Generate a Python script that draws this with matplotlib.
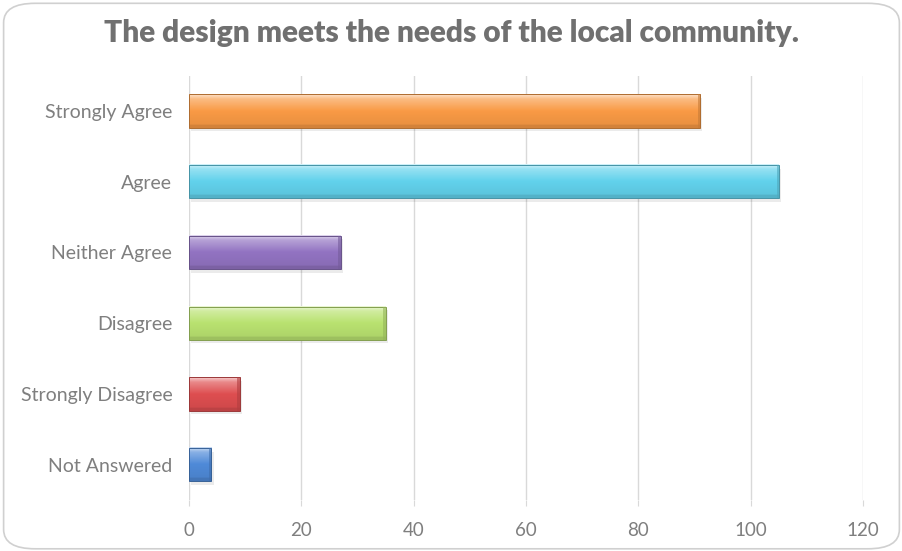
import numpy as np
import matplotlib.pyplot as plt
from matplotlib.patches import FancyBboxPatch, Rectangle
from matplotlib.colors import to_rgb

plt.rcParams['font.family'] = ['Lato', 'DejaVu Sans']

# survey data
categories = ['Strongly Agree', 'Agree', 'Neither Agree', 'Disagree',
              'Strongly Disagree', 'Not Answered']
counts = [91, 105, 27, 35, 9, 4]
bar_colors = ['#F99A45', '#62D2EC', '#9273C2', '#B9E270', '#DE4E50', '#4F8AD8']
xticks = [0, 20, 40, 60, 80, 100, 120]


def mix(c, other, t):
    c = np.array(to_rgb(c))
    return c * (1 - t) + np.array(other) * t


def bevel_gradient(color, n=60):
    # light top edge, base body, slightly darker bottom edge
    pos = np.linspace(0, 1, n)
    out = np.zeros((n, 1, 3))
    for i, p in enumerate(pos):
        if p < 0.12:
            col = mix(color, (1, 1, 1), 0.7 - p * 2.5)
        elif p < 0.5:
            col = mix(color, (1, 1, 1), 0.35 * (0.5 - p) / 0.38)
        elif p < 0.9:
            col = mix(color, (0, 0, 0), 0.06 * (p - 0.5) / 0.4)
        else:
            col = mix(color, (0, 0, 0), 0.15)
        out[i, 0] = col
    return out


fig = plt.figure(figsize=(9.03, 5.51), dpi=100)
fig.patches.append(FancyBboxPatch((0.004, 0.004), 0.992, 0.99,
                                  boxstyle='round,pad=0,rounding_size=0.035',
                                  transform=fig.transFigure, facecolor='white',
                                  edgecolor='#d0d0d0', linewidth=1.2, zorder=-1))

ax = fig.add_axes([0.2093, 0.0926, 0.7464, 0.7702])
ax.set_facecolor('none')

ypos = np.arange(len(categories))
h = 0.47
for y, v, c in zip(ypos, counts, bar_colors):
    # soft shadow
    ax.add_patch(Rectangle((0.4, y - h / 2 + 0.05), v, h, facecolor='#000000',
                           alpha=0.08, edgecolor='none', zorder=2))
    ax.imshow(bevel_gradient(c), extent=[0, v, y + h / 2, y - h / 2],
              aspect='auto', zorder=3, interpolation='bilinear')
    ax.add_patch(Rectangle((0, y - h / 2), v, h, facecolor='none',
                           edgecolor=mix(c, (0, 0, 0), 0.3), linewidth=0.7, zorder=4))
    # darker right end
    ax.add_patch(Rectangle((v - 0.4, y - h / 2), 0.4, h, facecolor=mix(c, (0, 0, 0), 0.2),
                           edgecolor='none', alpha=0.6, zorder=4))

ax.set_xlim(0, 120)
ax.set_ylim(len(categories) - 0.5, -0.5)
ax.set_yticks(ypos)
ax.set_yticklabels(categories)
ax.set_xticks(xticks)
ax.grid(axis='x', color='#d9d9d9', linewidth=1)
ax.set_axisbelow(True)
for s in ax.spines.values():
    s.set_visible(False)
ax.tick_params(axis='y', length=0, pad=12, labelsize=14, labelcolor='#7f7f7f')
ax.tick_params(axis='x', length=4, color='#d9d9d9', pad=12, labelsize=13.5,
               labelcolor='#7f7f7f')

fig.text(0.5, 0.94, 'The design meets the needs of the local community.',
         ha='center', va='center', fontsize=21.5, fontweight='heavy', color='#707070')

fig.savefig('out.png', dpi=100)
